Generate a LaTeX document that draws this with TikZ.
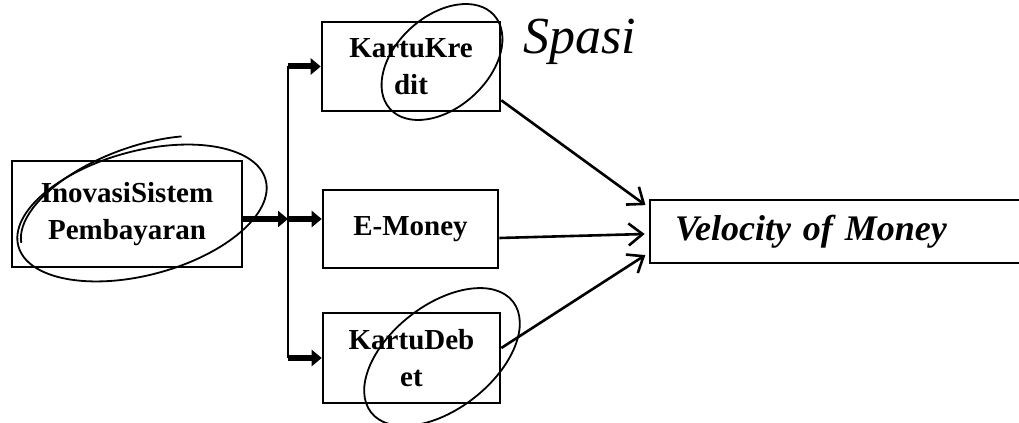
\documentclass[tikz,border=0pt]{standalone}
\usepackage{fontspec}
\setmainfont{Liberation Serif}
\usetikzlibrary{arrows.meta}

\tikzset{
  kotak/.style={draw, line width=1.3pt, align=center, inner sep=0pt,
    font=\fontsize{14.5}{18.5}\selectfont\bfseries},
  tebal/.style={line width=3pt, -{Triangle[length=5pt,width=8pt]}},
  tipis/.style={line width=1.3pt, -{Straight Barb[length=7pt,width=11pt]}, shorten >=2pt},
  coret/.style={line width=0.9pt},
}

\begin{document}
\begin{tikzpicture}[x=0.5pt,y=0.5pt]
\useasboundingbox (0,0) rectangle (1019,423);
\clip (0,0) rectangle (1019,423);
\node[kotak, minimum width=115pt, minimum height=53pt] (inovasi) at (127,209) {InovasiSistem\\Pembayaran};
\node[kotak, minimum width=89pt, minimum height=44.5pt] (kredit) at (411,356.5) {KartuKre\\dit};
\node[kotak, minimum width=87.5pt, minimum height=39pt] (emoney) at (410.5,194) {E-Money};
\node[kotak, minimum width=88.5pt, minimum height=45pt] (debet) at (411.5,65) {KartuDeb\\et};
\node[kotak, minimum height=31.5pt, text width=165pt, align=left, inner xsep=12.5pt,
  font=\fontsize{18}{20}\selectfont\bfseries\itshape] (velocity) at (840,191.5) {Velocity of Money};
\node[font=\fontsize{26}{26}\selectfont\itshape] (spasi) at (580,381) {Spasi};

\coordinate (hub) at (288,204);
\draw[line width=1.3pt] (hub |- kredit.west) -- (hub |- debet.west);
\draw[tebal] (inovasi.east |- hub) -- (hub);
\draw[tebal] (hub) -- (emoney.west |- hub);
\draw[tebal] (hub |- kredit.west) -- (kredit.west);
\draw[tebal] (hub |- debet.west) -- (debet.west);

\draw[tipis] ([yshift=6pt]kredit.south east) -- ([yshift=12pt]velocity.west);
\draw[tipis] ([yshift=-4.5pt]emoney.east) -- ([yshift=-1.2pt]velocity.west);
\draw[tipis] ([yshift=5pt]debet.east) -- ([yshift=-10.7pt]velocity.west);

% coretan tangan
\draw[coret, rotate around={15:(142,210)}] (142,210) ellipse [x radius=128, y radius=62];
\draw[coret, rotate around={20:(140,218)}] (140,218) ++(175:125 and 58) arc [start angle=175, end angle=60, x radius=125, y radius=58];
\draw[coret, rotate around={42:(442,361)}] (442,361) ellipse [x radius=70, y radius=46];
\draw[coret, rotate around={38:(442,66)}] (442,66) ellipse [x radius=90, y radius=52];
\end{tikzpicture}
\end{document}
